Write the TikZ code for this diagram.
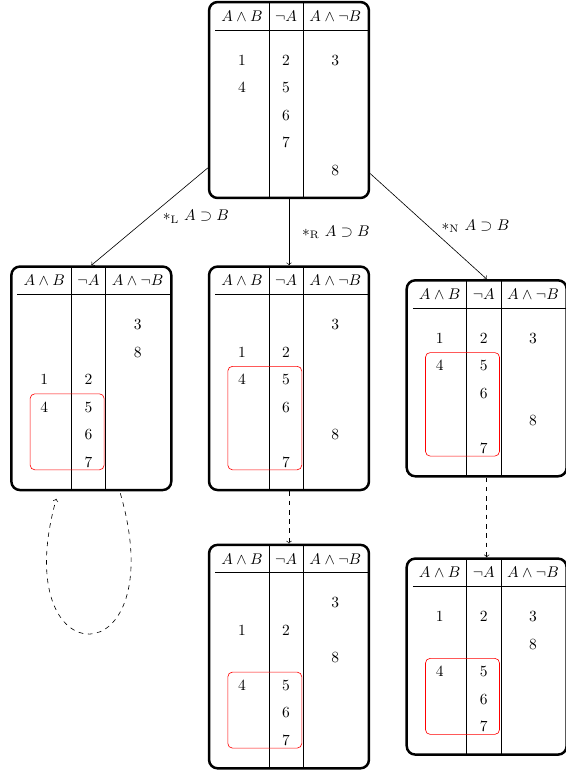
\documentclass[tikz,border=0pt]{standalone}
\usetikzlibrary{positioning,calc}

\renewcommand{\arraystretch}{1.478}
\setlength{\tabcolsep}{4pt}
% шапка таблицы и отступ перед первой строкой
\newcommand{\tabhead}{$A\wedge B$ & $\neg A$ & $A\wedge\neg B$ \\ \hline \rule{0pt}{22.5pt}}

\begin{document}
\begin{tikzpicture}[x=0.645pt, y=-0.645pt, node distance=179.5pt and 127.5pt, on grid,
    tableau/.style={rectangle, rounded corners=5.5pt, draw=black, line width=1.6pt,
      inner xsep=0pt, inner ysep=0pt, execute at begin node={\hspace{3.9pt}}},
    hilite/.style={draw=red, rounded corners=3pt}]
\useasboundingbox (0,0) rectangle (565,770);

% Исходная таблица
\node (top) [tableau] at (289,100) {\begin{tabular}{c|c|c@{\hspace{5pt}}}
  \tabhead 1 & 2 & 3 \\
  4 & 5 &   \\
    & 6 &   \\
    & 7 &   \\
    &   & 8 \\[9.5pt]
\end{tabular}};

% Три ветви
\node (brR) [tableau, below=of top] {\begin{tabular}{c|c|c@{\hspace{5pt}}}
  \tabhead  &   & 3 \\
  1 & 2 &   \\
  4 & 5 &   \\
    & 6 &   \\
    &   & 8 \\
    & 7 &   \\[9.5pt]
\end{tabular}};
\node (brL) [tableau, left=of brR] {\begin{tabular}{c|c|c@{\hspace{5pt}}}
  \tabhead  &   & 3 \\
    &   & 8 \\
  1 & 2 &   \\
  4 & 5 &   \\
    & 6 &   \\
    & 7 &   \\[9.5pt]
\end{tabular}};
\node (brN) [tableau, right=of brR] {\begin{tabular}{c|c|c@{\hspace{5pt}}}
  \tabhead 1 & 2 & 3 \\
  4 & 5 &   \\
    & 6 &   \\
    &   & 8 \\
    & 7 &   \\[9.5pt]
\end{tabular}};

% Следующий шаг
\node (nextR) [tableau, below=of brR] {\begin{tabular}{c|c|c@{\hspace{5pt}}}
  \tabhead  &   & 3 \\
  1 & 2 &   \\
    &   & 8 \\
  4 & 5 &   \\
    & 6 &   \\
    & 7 &   \\[9.5pt]
\end{tabular}};
\node (nextN) [tableau, below=of brN] {\begin{tabular}{c|c|c@{\hspace{5pt}}}
  \tabhead 1 & 2 & 3 \\
    &   & 8 \\
  4 & 5 &   \\
    & 6 &   \\
    & 7 &   \\[9.5pt]
\end{tabular}};

% Выделенные клетки
\draw[hilite] ($(brL.north west)+(20,128.5)$) rectangle ($(brL.north west)+(94,204.5)$);
\draw[hilite] ($(brR.north west)+(20,101)$) rectangle ($(brR.north west)+(94,204.5)$);
\draw[hilite] ($(brN.north west)+(20,73.5)$) rectangle ($(brN.north west)+(94,177)$);
\draw[hilite] ($(nextR.north west)+(20,128.5)$) rectangle ($(nextR.north west)+(94,204.5)$);
\draw[hilite] ($(nextN.north west)+(20,101)$) rectangle ($(nextN.north west)+(94,177)$);

% Стрелки
\draw[->] (top) -- (brL.north) node[midway, right=5pt] {$*_{\mathrm{L}}\ A\supset B$};
\draw[->] (top) -- (brR) node[midway, right=5pt] {$*_{\mathrm{R}}\ A\supset B$};
\draw[->] (top) -- (brN.north) node[midway, right=5pt] {$*_{\mathrm{N}}\ A\supset B$};
\draw[->, dashed] (brR) -- (nextR);
\draw[->, dashed] (brN) -- (nextN);
\draw[->, dashed] ($(brL.south)+(29,2)$) .. controls +(54,187) and +(-51,181) .. ($(brL.south)+(-35,7.5)$);

\end{tikzpicture}
\end{document}
